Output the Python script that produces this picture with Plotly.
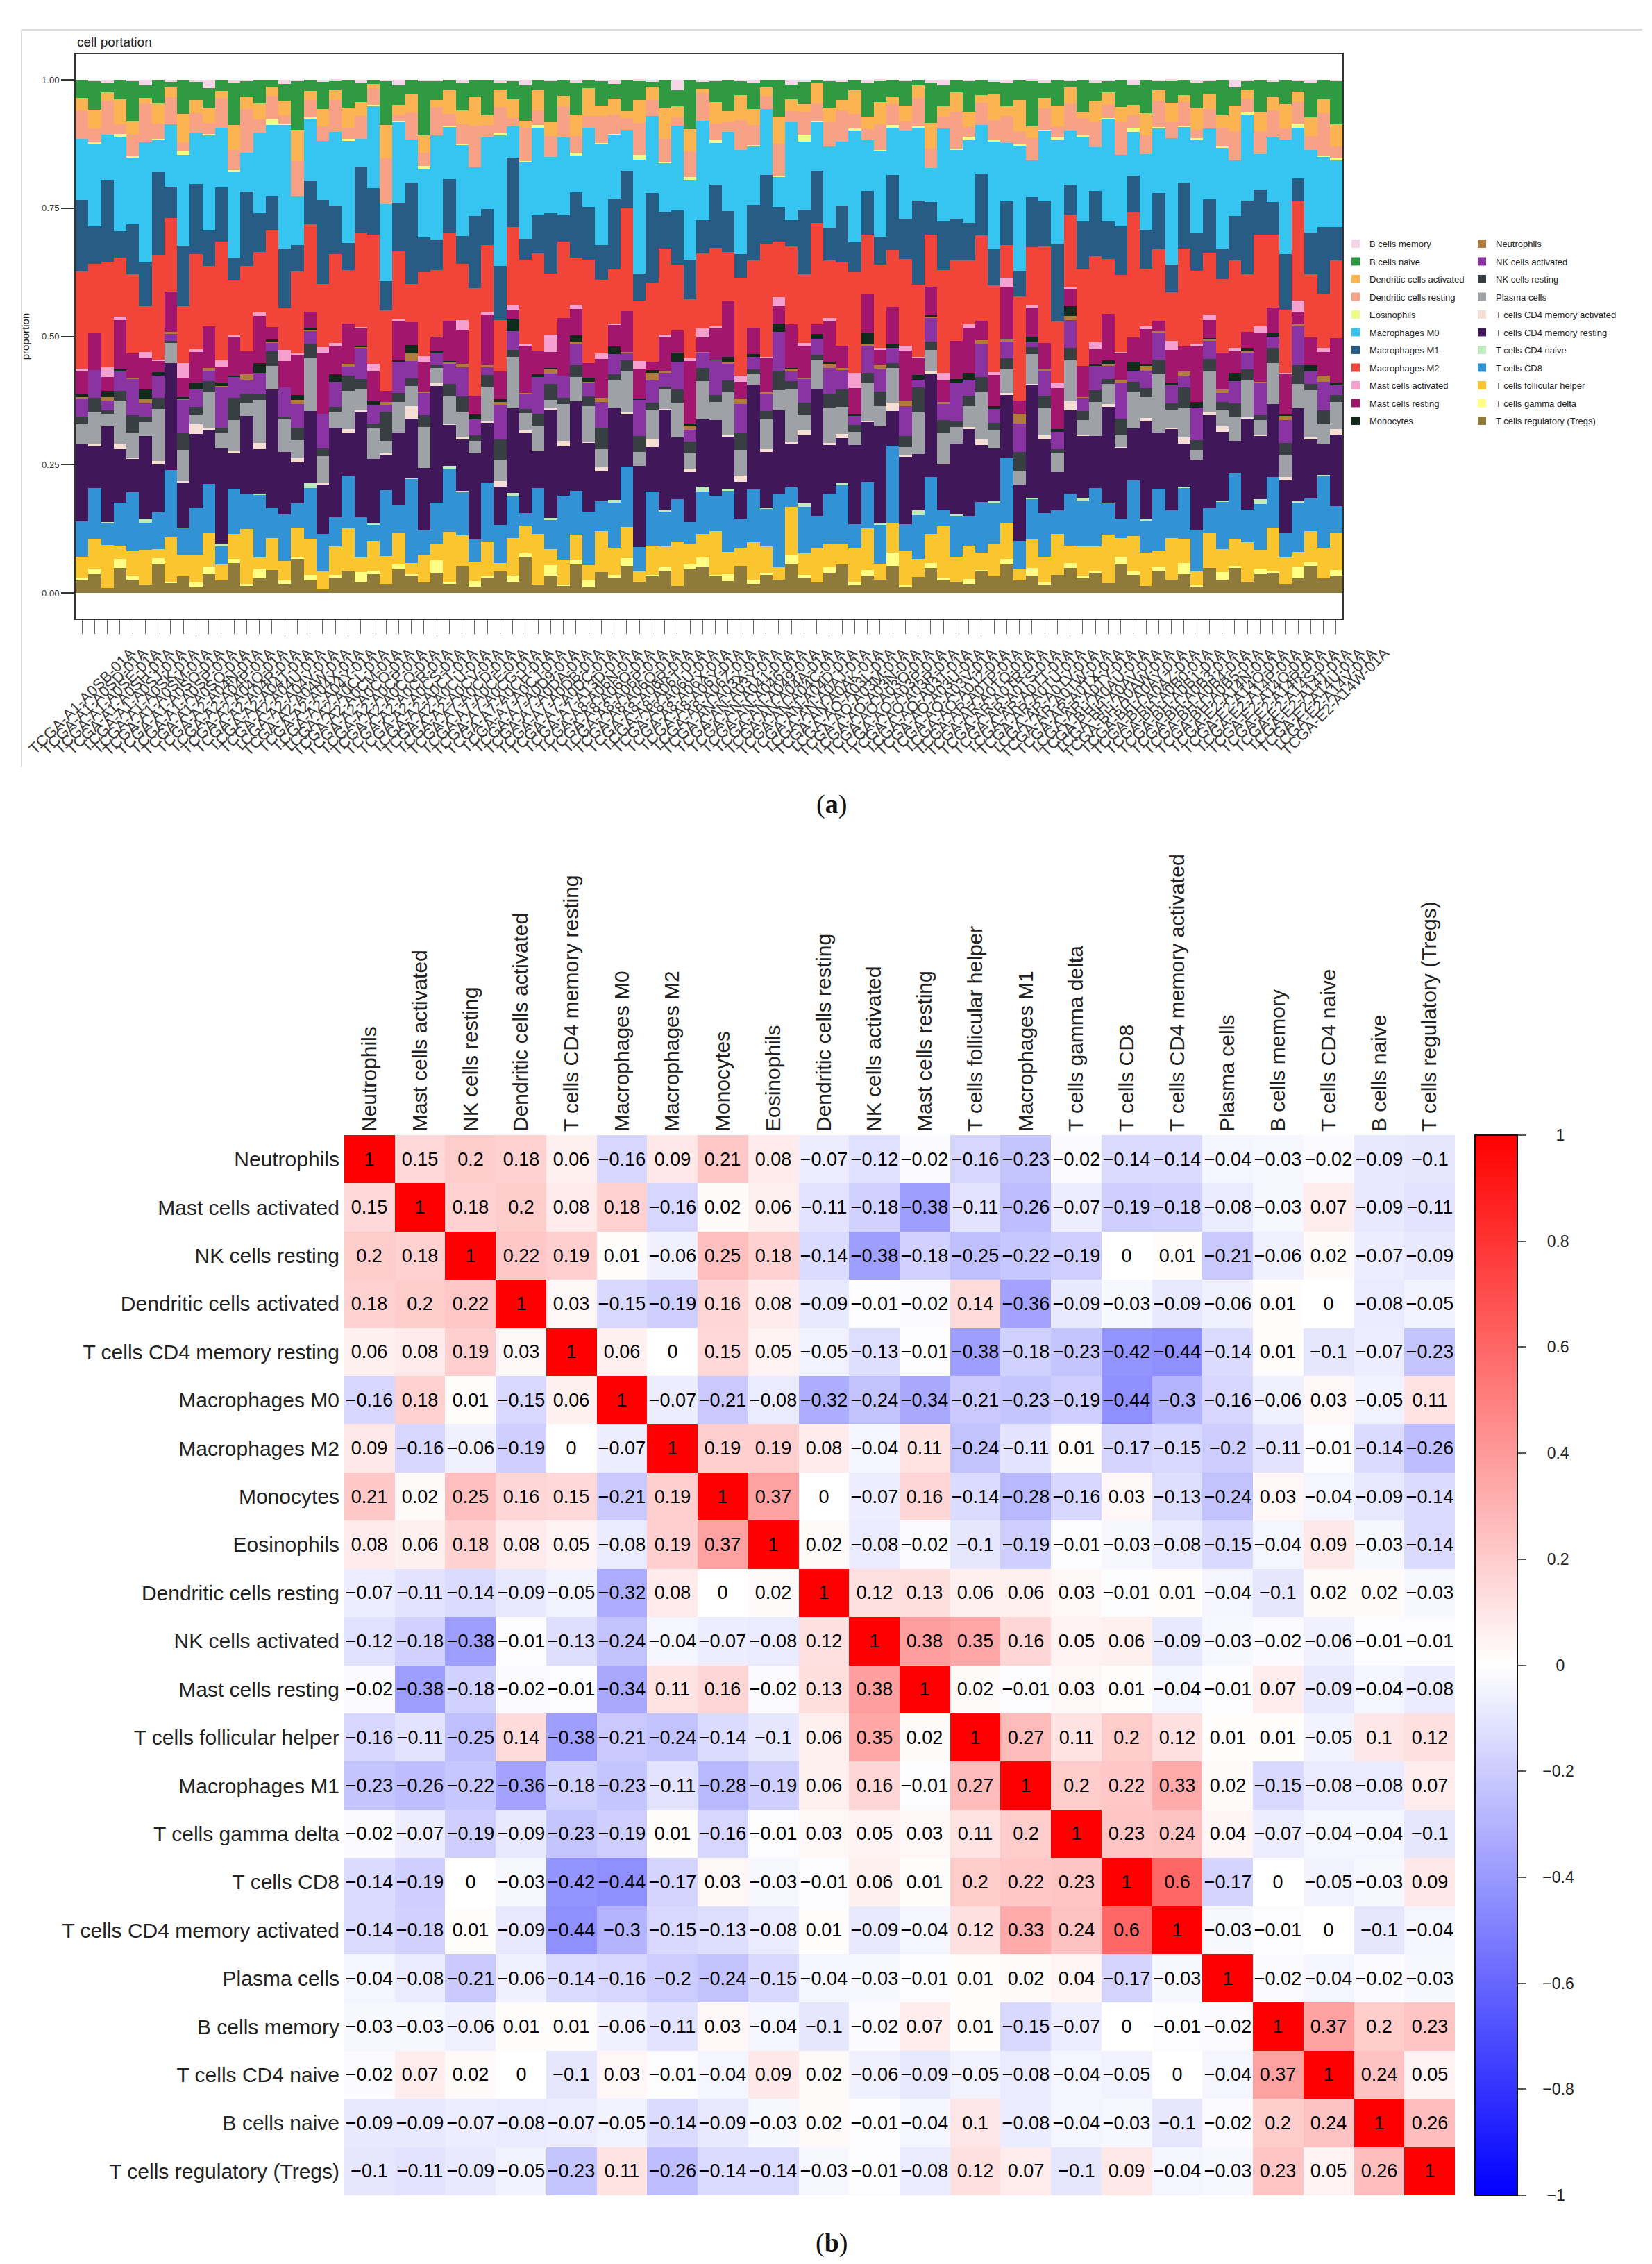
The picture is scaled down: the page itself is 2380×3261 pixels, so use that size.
import plotly.graph_objects as go

W, H = 2380, 3261
FONT = "Liberation Sans, Arial, sans-serif"

# ---------------- panel (a): cell proportions ----------------
CELL_TYPES = ["B cells memory", "B cells naive", "Dendritic cells activated", "Dendritic cells resting",
              "Eosinophils", "Macrophages M0", "Macrophages M1", "Macrophages M2",
              "Mast cells activated", "Mast cells resting", "Monocytes", "Neutrophils",
              "NK cells activated", "NK cells resting", "Plasma cells", "T cells CD4 memory activated",
              "T cells CD4 memory resting", "T cells CD4 naive", "T cells CD8",
              "T cells follicular helper", "T cells gamma delta", "T cells regulatory (Tregs)"]
CELL_COLORS = ["#F6D5E6", "#2F9A41", "#FCB452", "#F7A287", "#EEFC8A", "#36C5F0", "#275C84", "#F2453A",
               "#F5A0CE", "#A2166E", "#102A1B", "#B07C3E", "#8A33A2", "#383F43", "#9EA1A5", "#F5DFD5",
               "#401759", "#BFEABC", "#3192D6", "#FAC52E", "#FFFD84", "#8E7B3B"]

SAMPLE_CODES = """A1-A0SB A1-A0SD A1-A0SE A1-A0SH A1-A0SJ A1-A0SK A1-A0SM A1-A0SO A1-A0SP A1-A0SQ
A2-A04N A2-A04P A2-A04Q A2-A04R A2-A04T A2-A04U A2-A04V A2-A04W A2-A04X A2-A04Y
A2-A0CL A2-A0CM A2-A0CO A2-A0CP A2-A0CQ A2-A0CR A2-A0CS A2-A0CT A2-A0CU A2-A0CV
A7-A0CD A7-A0CE A7-A0CG A7-A0CH A7-A0CJ A7-A0D9 A7-A0DA A7-A0DB A7-A0DC A7-A13D
A8-A06N A8-A06O A8-A06P A8-A06Q A8-A06R A8-A06T A8-A06U A8-A06X A8-A06Y A8-A06Z
AN-A03X AN-A03Y AN-A041 AN-A046 AN-A049 AN-A04A AN-A04C AN-A04D AN-A0AJ AN-A0AK
AO-A03L AO-A03M AO-A03N AO-A03O AO-A03P AO-A03R AO-A03T AO-A03U AO-A03V AO-A0J2
AR-A0TP AR-A0TQ AR-A0TR AR-A0TS AR-A0TT AR-A0TU AR-A0TV AR-A0TW AR-A0TX AR-A0TY
BH-A0AU BH-A0AV BH-A0AW BH-A0AY BH-A0AZ BH-A0B0 BH-A0B1 BH-A0B3 BH-A0B4 BH-A0B5
E2-A14N E2-A14O E2-A14P E2-A14Q E2-A14R E2-A14S E2-A14T E2-A14U E2-A14V E2-A14W""".split()
SAMPLES = ["TCGA-" + c + "-01A" for c in SAMPLE_CODES]

# estimated per-sample abundances (per mille), one list per cell type
B_MEMORY = [0,3,8,0,2,12,0,5,0,4, 20,0,6,3,0,0,9,2,0,5, 1,0,7,0,3,15,0,2,4,0, 8,0,0,6,3,11,0,2,0,5,
            0,3,9,0,1,4,0,25,0,6, 2,0,3,7,0,0,12,4,0,2, 5,0,8,1,0,3,0,6,14,0, 2,0,4,9,0,1,5,0,3,0,
            7,2,0,10,0,4,1,0,6,3, 0,18,2,0,5,0,3,8,0,2]
B_NAIVE = [35,62,18,44,90,27,55,12,71,40, 48,25,83,33,60,15,38,102,29,57, 20,66,41,9,75,52,31,140,45,23,
           58,36,80,14,47,69,26,95,39,61, 17,53,30,74,42,11,64,37,88,22, 45,70,28,56,19,84,34,49,7,63,
           39,24,77,46,32,58,13,92,51,27, 66,35,21,60,43,118,30,54,16,72, 41,26,63,38,85,20,48,33,57,29,
           74,44,18,67,36,52,25,81,40,110]
DC_ACTIVATED = [25,40,18,55,30,12,45,22,60,28, 35,15,50,27,42,20,33,65,24,38, 19,48,31,10,58,26,37,44,16,52,
                29,62,21,36,47,14,53,32,25,41, 57,23,34,18,49,30,70,27,39,13, 45,26,52,33,20,61,28,17,43,35,
                22,54,30,46,15,38,27,59,24,40, 33,18,49,25,66,31,21,44,37,12, 50,29,36,20,55,24,42,16,47,34,
                27,63,19,38,30,51,23,45,28,56]
DC_RESTING = [55,30,70,22,48,85,35,60,18,42, 28,66,40,95,33,52,20,74,45,31, 62,25,50,38,80,17,57,34,68,26,
              43,90,29,55,21,64,37,48,76,32, 24,58,41,27,69,36,53,19,46,83, 35,22,61,44,30,72,26,50,39,58,
              67,33,25,54,40,21,63,45,29,78, 20,49,36,71,27,56,42,23,65,38, 57,31,75,24,47,60,34,52,18,44,
              39,70,28,46,62,25,51,33,86,30]
EOSINOPHILS = [0,2,0,5,1,0,3,0,8,0, 2,0,4,0,0,12,1,0,3,0, 0,6,0,2,0,1,0,9,0,3, 1,0,0,4,0,2,7,0,0,5,
               0,3,1,0,10,0,2,0,4,0, 6,0,0,2,0,3,0,15,1,0, 0,4,0,1,5,0,2,0,0,3, 8,0,2,0,3,0,1,6,0,2,
               0,1,0,7,0,4,0,2,3,0, 2,0,5,0,1,0,9,0,2,4]
MACRO_M0 = [120,180,95,210,150,260,75,140,190,110, 230,130,170,85,205,155,280,100,165,125,
            145,240,60,185,135,215,90,175,250,115, 195,105,160,270,80,150,225,128,188,70,
            160,220,135,98,245,172,110,200,142,300, 88,178,212,126,158,67,232,148,104,190,
            138,255,118,182,92,208,162,78,228,145, 175,112,198,153,265,96,140,218,130,185,
            102,236,166,84,192,148,272,122,206,158, 214,134,180,72,152,244,118,196,142,168]
MACRO_M1 = [140,80,170,60,110,95,190,70,125,150, 85,120,45,160,100,75,135,55,115,180,
            95,65,145,105,50,130,210,88,72,118, 60,155,82,112,175,40,98,138,64,125,
            108,76,150,90,58,200,84,128,70,102, 135,92,48,118,165,80,62,142,110,78,
            122,68,102,58,145,95,185,74,118,88, 80,140,66,115,55,128,90,162,72,105,
            150,86,112,70,98,130,60,145,82,120, 64,108,155,92,76,118,52,98,136,84]
MACRO_M2 = [190,150,220,130,175,100,240,165,120,205, 145,260,110,185,155,210,95,170,230,135,
            175,125,205,290,140,180,80,215,160,195, 120,230,150,105,200,165,250,140,185,90,
            210,160,115,245,130,178,195,155,105,225, 165,110,200,145,270,125,185,150,215,135,
            180,230,140,175,110,205,160,120,250,170, 135,195,160,85,220,150,190,130,175,210,
            200,125,180,240,145,165,105,215,160,140, 155,210,120,185,170,135,230,150,110,195]
MAST_ACTIVATED = [5,0,20,8,0,12,3,0,30,6, 0,15,4,0,9,0,25,2,0,11, 7,0,3,18,0,5,0,14,2,0,
                  22,0,6,0,10,3,0,40,0,8, 0,12,2,0,16,0,7,0,5,28, 4,0,13,0,3,20,0,6,0,9,
                  0,35,0,5,0,11,2,0,17,0, 8,0,4,24,0,6,0,10,3,0, 15,0,2,0,7,0,19,0,5,12,
                  0,9,0,14,0,3,26,0,8,0]
MAST_RESTING = [45,80,30,110,55,70,25,90,40,65, 100,35,75,50,120,28,60,85,42,130,
                55,95,38,68,20,105,48,78,33,88, 72,40,115,58,26,92,62,36,140,50,
                30,84,46,98,64,18,76,52,110,44, 66,125,34,56,82,40,102,70,22,94,
                48,60,88,32,72,118,38,64,54,80, 96,44,58,135,28,74,50,86,42,68,
                36,108,62,46,90,24,70,56,122,40, 78,52,34,100,60,86,30,66,48,112]
MONOCYTES = [5,0,12,3,0,20,8,0,4,15, 0,7,2,0,25,3,0,10,6,0, 14,0,4,9,0,2,18,0,6,3, 0,11,0,5,30,0,7,2,0,13,
             8,0,16,0,3,6,0,22,4,0, 2,12,0,7,0,19,3,0,9,5, 0,4,28,0,6,0,11,3,0,8, 15,0,5,2,0,13,0,7,24,0,
             3,9,0,17,4,0,6,0,12,2, 0,21,5,0,8,3,0,14,0,6]
NEUTROPHILS = [3,0,8,0,2,10,0,5,1,0, 6,2,0,12,0,4,0,9,3,0, 0,7,1,0,5,0,15,2,0,4, 8,0,3,6,0,2,0,11,0,5,
               2,9,0,4,0,18,3,0,7,1, 0,5,12,0,3,0,6,2,0,10, 4,0,2,8,0,14,0,3,6,0, 1,7,0,5,20,0,4,0,9,2,
               0,3,6,0,11,2,0,8,0,5, 7,0,4,1,0,9,3,0,13,0]
NK_ACTIVATED = [35,60,20,45,80,28,52,15,70,38, 25,90,42,30,55,18,65,48,33,75, 50,22,68,40,12,85,36,58,27,44,
                62,34,19,72,46,30,95,24,54,39, 28,56,43,16,78,50,32,66,21,47, 74,37,59,26,41,88,23,52,35,61,
                42,20,64,48,30,70,17,55,38,82, 33,76,25,45,60,14,50,36,68,29, 57,31,84,22,44,63,39,26,72,40,
                19,53,35,66,27,48,92,30,58,24]
NK_RESTING = [15,30,8,22,40,12,25,5,35,18, 28,10,45,20,14,32,6,26,38,16, 9,36,21,12,50,24,17,30,7,27,
              33,13,26,42,19,8,29,37,15,23, 20,47,11,25,34,16,6,31,22,40, 14,27,35,9,21,44,18,28,12,32,
              38,16,24,30,10,26,55,19,33,11, 22,35,13,28,41,17,24,8,30,20, 26,11,39,18,24,33,14,46,21,29,
              17,31,22,10,36,25,43,15,27,19]
PLASMA = [40,70,25,95,55,30,120,45,65,20, 85,35,60,28,110,50,75,38,140,58, 32,90,48,68,22,80,42,105,36,62,
          54,26,78,44,130,34,66,18,88,47, 72,40,58,100,30,64,45,82,27,115, 38,96,52,24,70,46,125,33,60,84,
          58,30,87,42,66,20,92,50,74,36, 44,108,35,62,28,76,54,40,98,31, 80,46,26,70,52,135,38,64,22,90,
          34,60,78,30,95,48,56,112,42,68]
CD4_MEM_ACTIVATED = [0,5,0,12,2,0,8,0,3,20, 4,0,6,0,15,1,0,9,0,3, 0,10,2,0,4,0,25,0,7,1, 6,0,3,11,0,5,0,2,14,0,
                     2,8,0,4,0,18,1,0,6,0, 0,3,13,0,7,0,4,10,0,5, 9,0,2,0,16,3,0,6,1,0, 4,12,0,5,0,2,8,0,22,3,
                     0,6,1,0,9,0,3,14,0,7, 11,0,4,2,0,7,0,5,0,13]
CD4_MEM_RESTING = [150,90,200,120,75,180,110,240,95,160, 130,210,70,170,115,260,140,85,190,105,
                   175,100,230,145,60,195,125,160,280,90, 110,185,135,80,215,155,95,250,120,170,
                   140,65,195,125,175,100,230,145,88,205, 160,118,75,225,135,190,105,150,270,115,
                   98,180,140,205,68,160,125,235,110,150, 185,130,95,165,120,290,145,80,200,135,
                   120,220,165,100,245,130,175,95,155,210, 145,78,190,128,170,112,215,140,62,180]
CD4_NAIVE = [0,0,3,0,0,8,0,0,1,0, 0,5,0,0,2,0,0,0,12,0, 0,0,0,4,0,0,1,0,0,6, 2,0,0,0,9,0,0,3,0,0,
             0,0,6,0,0,0,2,0,0,15, 0,3,0,0,1,0,0,7,0,0, 4,0,0,2,0,0,10,0,0,1, 0,0,5,0,0,3,0,0,0,8,
             0,1,0,0,6,0,0,2,0,0, 3,0,0,11,0,0,4,0,1,0]
CD8 = [70,110,45,95,130,60,85,150,55,100, 120,40,90,75,160,65,105,50,135,80, 58,125,88,35,115,72,175,62,98,140,
       92,48,132,78,105,25,118,68,155,84, 110,66,95,145,52,122,80,100,38,128, 76,138,60,112,90,165,45,102,70,118,
       126,55,108,82,148,62,96,130,42,88, 64,116,74,170,58,104,86,50,124,98, 134,72,45,106,80,142,60,112,90,56,
       100,158,68,92,120,52,114,78,146,66]
TFH = [40,65,90,30,55,75,20,100,45,60, 80,35,50,120,28,70,44,62,95,38, 55,100,32,68,48,85,24,72,40,110,
       66,42,78,18,96,54,130,36,60,48, 30,88,58,74,22,64,45,105,38,70, 92,50,36,80,62,28,115,46,72,56,
       44,76,98,34,58,82,40,66,125,52, 70,38,60,94,26,74,50,86,42,64, 58,112,44,68,84,36,90,54,30,78,
       48,66,82,40,102,56,34,74,62,95]
GAMMA_DELTA = [5,12,0,20,8,0,15,3,0,10, 18,0,7,4,25,0,9,2,14,0, 6,0,22,8,0,13,3,0,30,5, 0,11,4,0,16,7,0,24,2,9,
               14,0,6,19,0,3,10,0,8,28, 2,17,0,9,5,0,21,6,0,12, 0,8,13,0,26,4,0,11,7,0, 10,3,0,15,0,20,5,0,12,6,
               4,0,18,7,0,9,0,23,3,0, 16,5,0,10,2,0,27,8,0,13]
TREGS = [25,40,10,55,30,18,65,22,35,12, 45,28,60,15,38,50,20,72,33,8, 30,52,24,42,16,62,36,26,48,20,
         58,14,34,44,28,70,22,40,18,54, 12,46,32,64,24,38,50,16,42,80, 36,26,56,20,44,30,68,34,22,48,
         62,18,40,28,52,14,36,58,30,24, 20,50,30,74,26,44,16,38,60,32, 46,22,66,34,18,52,28,42,14,56,
         28,60,24,38,48,20,34,64,30,44]

ABUNDANCE = [B_MEMORY, B_NAIVE, DC_ACTIVATED, DC_RESTING, EOSINOPHILS, MACRO_M0, MACRO_M1, MACRO_M2,
             MAST_ACTIVATED, MAST_RESTING, MONOCYTES, NEUTROPHILS, NK_ACTIVATED, NK_RESTING, PLASMA,
             CD4_MEM_ACTIVATED, CD4_MEM_RESTING, CD4_NAIVE, CD8, TFH, GAMMA_DELTA, TREGS]

Y_TICKS = [0, 0.25, 0.5, 0.75, 1.0]
Y_TICKTEXT = ["0.00", "0.25", "0.50", "0.75", "1.00"]

# ---------------- panel (b): correlation matrix ----------------
CORR_LABELS = ["Neutrophils", "Mast cells activated", "NK cells resting", "Dendritic cells activated",
               "T cells CD4 memory resting", "Macrophages M0", "Macrophages M2", "Monocytes", "Eosinophils",
               "Dendritic cells resting", "NK cells activated", "Mast cells resting",
               "T cells follicular helper", "Macrophages M1", "T cells gamma delta", "T cells CD8",
               "T cells CD4 memory activated", "Plasma cells", "B cells memory", "T cells CD4 naive",
               "B cells naive", "T cells regulatory (Tregs)"]
CORR = [
    [1, 0.15, 0.2, 0.18, 0.06, -0.16, 0.09, 0.21, 0.08, -0.07, -0.12, -0.02, -0.16, -0.23, -0.02, -0.14, -0.14, -0.04, -0.03, -0.02, -0.09, -0.1],
    [0.15, 1, 0.18, 0.2, 0.08, 0.18, -0.16, 0.02, 0.06, -0.11, -0.18, -0.38, -0.11, -0.26, -0.07, -0.19, -0.18, -0.08, -0.03, 0.07, -0.09, -0.11],
    [0.2, 0.18, 1, 0.22, 0.19, 0.01, -0.06, 0.25, 0.18, -0.14, -0.38, -0.18, -0.25, -0.22, -0.19, 0, 0.01, -0.21, -0.06, 0.02, -0.07, -0.09],
    [0.18, 0.2, 0.22, 1, 0.03, -0.15, -0.19, 0.16, 0.08, -0.09, -0.01, -0.02, 0.14, -0.36, -0.09, -0.03, -0.09, -0.06, 0.01, 0, -0.08, -0.05],
    [0.06, 0.08, 0.19, 0.03, 1, 0.06, 0, 0.15, 0.05, -0.05, -0.13, -0.01, -0.38, -0.18, -0.23, -0.42, -0.44, -0.14, 0.01, -0.1, -0.07, -0.23],
    [-0.16, 0.18, 0.01, -0.15, 0.06, 1, -0.07, -0.21, -0.08, -0.32, -0.24, -0.34, -0.21, -0.23, -0.19, -0.44, -0.3, -0.16, -0.06, 0.03, -0.05, 0.11],
    [0.09, -0.16, -0.06, -0.19, 0, -0.07, 1, 0.19, 0.19, 0.08, -0.04, 0.11, -0.24, -0.11, 0.01, -0.17, -0.15, -0.2, -0.11, -0.01, -0.14, -0.26],
    [0.21, 0.02, 0.25, 0.16, 0.15, -0.21, 0.19, 1, 0.37, 0, -0.07, 0.16, -0.14, -0.28, -0.16, 0.03, -0.13, -0.24, 0.03, -0.04, -0.09, -0.14],
    [0.08, 0.06, 0.18, 0.08, 0.05, -0.08, 0.19, 0.37, 1, 0.02, -0.08, -0.02, -0.1, -0.19, -0.01, -0.03, -0.08, -0.15, -0.04, 0.09, -0.03, -0.14],
    [-0.07, -0.11, -0.14, -0.09, -0.05, -0.32, 0.08, 0, 0.02, 1, 0.12, 0.13, 0.06, 0.06, 0.03, -0.01, 0.01, -0.04, -0.1, 0.02, 0.02, -0.03],
    [-0.12, -0.18, -0.38, -0.01, -0.13, -0.24, -0.04, -0.07, -0.08, 0.12, 1, 0.38, 0.35, 0.16, 0.05, 0.06, -0.09, -0.03, -0.02, -0.06, -0.01, -0.01],
    [-0.02, -0.38, -0.18, -0.02, -0.01, -0.34, 0.11, 0.16, -0.02, 0.13, 0.38, 1, 0.02, -0.01, 0.03, 0.01, -0.04, -0.01, 0.07, -0.09, -0.04, -0.08],
    [-0.16, -0.11, -0.25, 0.14, -0.38, -0.21, -0.24, -0.14, -0.1, 0.06, 0.35, 0.02, 1, 0.27, 0.11, 0.2, 0.12, 0.01, 0.01, -0.05, 0.1, 0.12],
    [-0.23, -0.26, -0.22, -0.36, -0.18, -0.23, -0.11, -0.28, -0.19, 0.06, 0.16, -0.01, 0.27, 1, 0.2, 0.22, 0.33, 0.02, -0.15, -0.08, -0.08, 0.07],
    [-0.02, -0.07, -0.19, -0.09, -0.23, -0.19, 0.01, -0.16, -0.01, 0.03, 0.05, 0.03, 0.11, 0.2, 1, 0.23, 0.24, 0.04, -0.07, -0.04, -0.04, -0.1],
    [-0.14, -0.19, 0, -0.03, -0.42, -0.44, -0.17, 0.03, -0.03, -0.01, 0.06, 0.01, 0.2, 0.22, 0.23, 1, 0.6, -0.17, 0, -0.05, -0.03, 0.09],
    [-0.14, -0.18, 0.01, -0.09, -0.44, -0.3, -0.15, -0.13, -0.08, 0.01, -0.09, -0.04, 0.12, 0.33, 0.24, 0.6, 1, -0.03, -0.01, 0, -0.1, -0.04],
    [-0.04, -0.08, -0.21, -0.06, -0.14, -0.16, -0.2, -0.24, -0.15, -0.04, -0.03, -0.01, 0.01, 0.02, 0.04, -0.17, -0.03, 1, -0.02, -0.04, -0.02, -0.03],
    [-0.03, -0.03, -0.06, 0.01, 0.01, -0.06, -0.11, 0.03, -0.04, -0.1, -0.02, 0.07, 0.01, -0.15, -0.07, 0, -0.01, -0.02, 1, 0.37, 0.2, 0.23],
    [-0.02, 0.07, 0.02, 0, -0.1, 0.03, -0.01, -0.04, 0.09, 0.02, -0.06, -0.09, -0.05, -0.08, -0.04, -0.05, 0, -0.04, 0.37, 1, 0.24, 0.05],
    [-0.09, -0.09, -0.07, -0.08, -0.07, -0.05, -0.14, -0.09, -0.03, 0.02, -0.01, -0.04, 0.1, -0.08, -0.04, -0.03, -0.1, -0.02, 0.2, 0.24, 1, 0.26],
    [-0.1, -0.11, -0.09, -0.05, -0.23, 0.11, -0.26, -0.14, -0.14, -0.03, -0.01, -0.08, 0.12, 0.07, -0.1, 0.09, -0.04, -0.03, 0.23, 0.05, 0.26, 1],
]
CB_TICKS = [1, 0.8, 0.6, 0.4, 0.2, 0, -0.2, -0.4, -0.6, -0.8, -1]


def fmt(v):
    return f"{v:g}".replace("-", "\u2212")


def cb_label(v):
    s = fmt(v)
    if len(s) == 1:
        pad = "\u2007" * 3
    elif s.startswith("\u2212") and len(s) == 2:
        pad = "\u2007" * 2
    elif s.startswith("\u2212"):
        pad = "\u2007" + "\u2008"
    else:
        pad = "\u2007" * 2
    return pad + s


CELL_TEXT = [[fmt(v) for v in row] for row in CORR]
CB_TEXT = [cb_label(v) for v in CB_TICKS]


def px_x(p):
    return p / W


def px_y(p):
    return 1 - p / H


fig = go.Figure()

# stacked bars: Tregs at the bottom, B cells memory on top
for i in reversed(range(len(CELL_TYPES))):
    fig.add_trace(go.Bar(
        x=SAMPLES, y=ABUNDANCE[i], name=CELL_TYPES[i],
        marker=dict(color=CELL_COLORS[i], line=dict(width=0)),
        legend="legend" if i < 11 else "legend2",
        legendgroup=CELL_TYPES[i], legendrank=i + 1,
        xaxis="x", yaxis="y",
    ))

fig.add_trace(go.Heatmap(
    z=CORR, x=CORR_LABELS, y=CORR_LABELS,
    text=CELL_TEXT, texttemplate="%{text}",
    textfont=dict(size=27, color="#000000", family=FONT),
    colorscale=[[0, "#0000FF"], [0.5, "#FFFFFF"], [1, "#FF0000"]],
    zmin=-1, zmax=1, xgap=0, ygap=0,
    xaxis="x2", yaxis="y2", showscale=True,
    colorbar=dict(
        x=px_x(2117), xanchor="left", xpad=0,
        y=px_y(2390.5), yanchor="middle", ypad=0,
        len=1527, lenmode="pixels", thickness=61, thicknessmode="pixels",
        outlinewidth=2, outlinecolor="#111111",
        ticks="outside", ticklen=12, tickwidth=2, tickcolor="#555555",
        tickvals=CB_TICKS, ticktext=CB_TEXT,
        tickfont=dict(size=23, color="#222222", family=FONT),
    ),
))

legend_common = dict(
    xanchor="left", yanchor="top",
    font=dict(size=13, color="#222222", family=FONT),
    tracegroupgap=5.6, traceorder="grouped",
    bgcolor="rgba(0,0,0,0)", borderwidth=0,
)

fig.update_layout(
    width=W, height=H,
    margin=dict(l=0, r=0, t=0, b=0, pad=0, autoexpand=False),
    paper_bgcolor="white", plot_bgcolor="white",
    font=dict(family=FONT, color="#222222"),
    barmode="stack", barnorm="fraction", bargap=0,
    showlegend=True,
    legend=dict(x=px_x(1925), y=px_y(328), **legend_common),
    legend2=dict(x=px_x(2107), y=px_y(328), **legend_common),
    xaxis=dict(
        domain=[px_x(101), px_x(1926)], anchor="y", automargin=False,
        type="category", range=[-0.5, len(SAMPLES) - 0.5],
        tickmode="linear", tick0=0, dtick=1,
        showline=True, mirror=True, linecolor="#333333", linewidth=2,
        ticks="outside", ticklen=20, tickwidth=1, tickcolor="#666666",
        tickangle=-45, tickfont=dict(size=22, color="#3c3c3c", family=FONT),
        ticklabelshift=70, ticklabelstandoff=6,
        showgrid=False, zeroline=False,
    ),
    yaxis=dict(
        domain=[px_y(883), px_y(70)], anchor="x", automargin=False,
        range=[-0.05, 1.05],
        tickmode="array", tickvals=Y_TICKS, ticktext=Y_TICKTEXT,
        showline=True, mirror=True, linecolor="#333333", linewidth=2,
        ticks="outside", ticklen=19, tickwidth=2, tickcolor="#333333",
        tickfont=dict(size=13, color="#333333", family=FONT),
        title=dict(text="proportion", font=dict(size=15, color="#222222", family=FONT), standoff=14),
        showgrid=False, zeroline=False,
    ),
    xaxis2=dict(
        domain=[px_x(488), px_x(2088)], anchor="y2", side="top", automargin=False,
        tickangle=-90, tickfont=dict(size=30, color="#222222", family=FONT),
        ticks="", showline=False, showgrid=False, zeroline=False,
        ticklabelstandoff=4,
    ),
    yaxis2=dict(
        domain=[px_y(3154), px_y(1627)], anchor="x2", automargin=False,
        autorange="reversed",
        tickfont=dict(size=30, color="#222222", family=FONT),
        ticks="", showline=False, showgrid=False, zeroline=False,
        ticklabelstandoff=6,
    ),
    annotations=[
        dict(text="cell portation", xref="paper", yref="paper", x=px_x(101), y=px_y(52),
             xanchor="left", yanchor="middle", showarrow=False,
             font=dict(size=19, color="#222222", family=FONT)),
        dict(text="(<b>a</b>)", xref="paper", yref="paper", x=px_x(1190), y=px_y(1150),
             xanchor="center", yanchor="middle", showarrow=False,
             font=dict(size=38, color="#111111", family="Liberation Serif, DejaVu Serif, serif")),
        dict(text="(<b>b</b>)", xref="paper", yref="paper", x=px_x(1190), y=px_y(3222),
             xanchor="center", yanchor="middle", showarrow=False,
             font=dict(size=38, color="#111111", family="Liberation Serif, DejaVu Serif, serif")),
    ],
    shapes=[
        dict(type="line", xref="paper", yref="paper", x0=px_x(23), x1=px_x(2358), y0=px_y(35), y1=px_y(35),
             line=dict(color="#DDDDDD", width=2)),
        dict(type="line", xref="paper", yref="paper", x0=px_x(23), x1=px_x(23), y0=px_y(35), y1=px_y(1097),
             line=dict(color="#DDDDDD", width=2)),
    ],
)

fig.write_html("out.html")
